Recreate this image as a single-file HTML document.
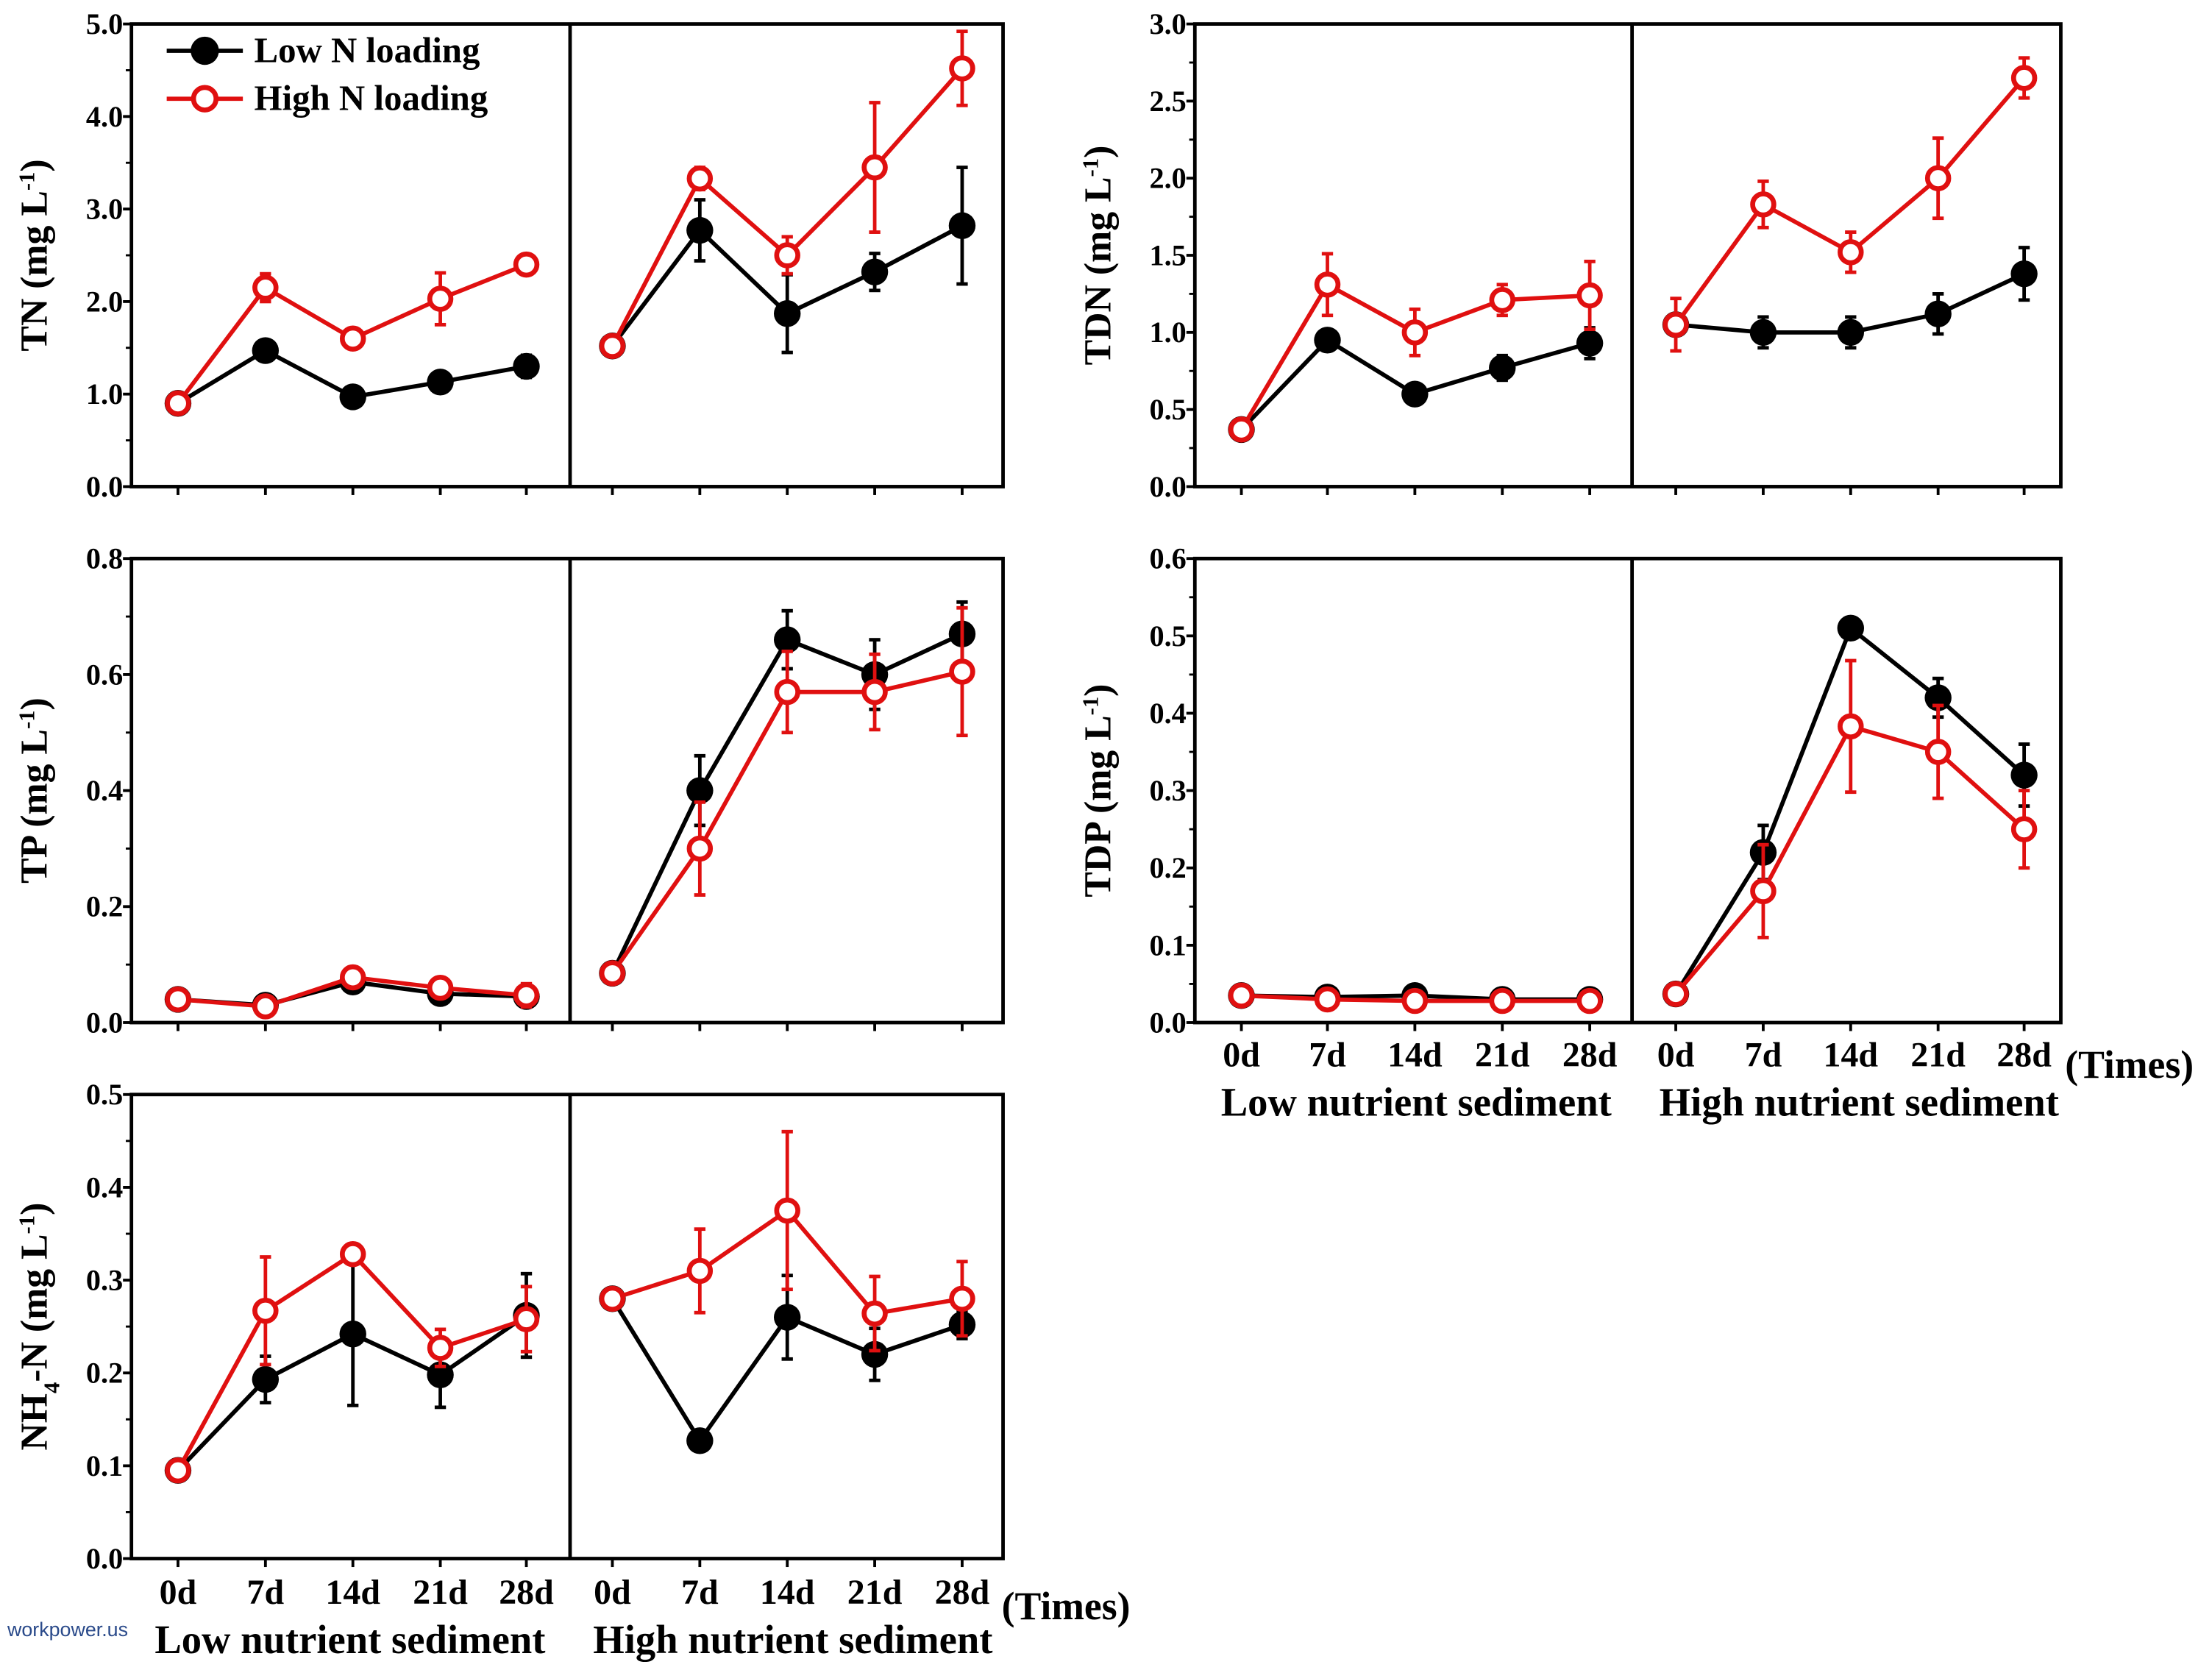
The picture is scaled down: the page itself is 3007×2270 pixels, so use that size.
<!DOCTYPE html>
<html><head><meta charset="utf-8"><style>
html,body{margin:0;padding:0;background:#fff}
svg{display:block}
text{font-family:"Liberation Serif",serif;font-weight:bold;fill:#000}
</style></head><body>
<svg id="s" width="3007" height="2270" viewBox="0 0 1568 1184" xmlns="http://www.w3.org/2000/svg"></svg>
<script>
const s=document.getElementById('s');let h='';
function P(o){
 const {x0,x1,y0,y1,div,max,step,dec,xs,title,b,r,eb,er}=o;
 const Y=v=>y1-(v/max)*(y1-y0);
 h+=`<rect x="${x0}" y="${y0}" width="${x1-x0}" height="${y1-y0}" fill="none" stroke="#000" stroke-width="2.5"/>`;
 h+=`<line x1="${div}" y1="${y0}" x2="${div}" y2="${y1}" stroke="#000" stroke-width="2.5"/>`;
 for(let v=0;v<=max+1e-9;v+=step){const y=Y(v);
  h+=`<line x1="${x0-6}" y1="${y}" x2="${x0}" y2="${y}" stroke="#000" stroke-width="2"/>`;
  h+=`<text x="${x0-6}" y="${y+7}" font-size="21" text-anchor="end">${v.toFixed(dec)}</text>`;}
 for(let v=step/2;v<max;v+=step){const y=Y(v);h+=`<line x1="${x0-4}" y1="${y}" x2="${x0}" y2="${y}" stroke="#000" stroke-width="1.5"/>`;}
 xs.forEach(x=>h+=`<line x1="${x}" y1="${y1}" x2="${x}" y2="${y1+6}" stroke="#000" stroke-width="2"/>`);
 const cy=(y0+y1)/2;
 h+=`<text transform="translate(${x0-60},${cy}) rotate(-90)" font-size="27" text-anchor="middle">${title}</text>`;
 [[b,eb,'#000',true],[r,er,'#e01010',false]].forEach(([d,e,c,f])=>{
  [[0,5],[5,10]].forEach(([a,z])=>{
   let pts=[];for(let i=a;i<z;i++)pts.push(xs[i]+','+Y(d[i]));
   h+=`<polyline points="${pts.join(' ')}" fill="none" stroke="${c}" stroke-width="3"/>`;});
  for(let i=0;i<10;i++){const x=xs[i],y=Y(d[i]);
   if(e[i]>0){const t=Y(d[i]+e[i]),bo=Y(d[i]-e[i]);
    h+=`<line x1="${x}" y1="${t}" x2="${x}" y2="${bo}" stroke="${c}" stroke-width="2.5"/><line x1="${x-4}" y1="${t}" x2="${x+4}" y2="${t}" stroke="${c}" stroke-width="2.5"/><line x1="${x-4}" y1="${bo}" x2="${x+4}" y2="${bo}" stroke="${c}" stroke-width="2.5"/>`;}
  }
  for(let i=0;i<10;i++){const x=xs[i],y=Y(d[i]);
   h+=f?`<circle cx="${x}" cy="${y}" r="9.5" fill="#000"/>`:`<circle cx="${x}" cy="${y}" r="7.5" fill="#fff" stroke="${c}" stroke-width="3.5"/>`;}
 });
}
const XL=[126,188,250,312,373,434,496,558,620,682],XR=[880,941,1003,1065,1127,1188,1250,1312,1374,1435];
P({x0:93,x1:711,y0:17,y1:345,div:404,max:5,step:1,dec:1,xs:XL,title:'TN (mg L<tspan baseline-shift="super" font-size="16">-1</tspan>)',
 b:[.9,1.47,.97,1.13,1.3,1.52,2.77,1.87,2.32,2.82],r:[.9,2.15,1.6,2.03,2.4,1.52,3.33,2.5,3.45,4.52],
 eb:[0,.05,.05,.05,.12,0,.33,.42,.2,.63],er:[0,.15,.05,.28,.05,.05,.12,.2,.7,.4]});
P({x0:847,x1:1461,y0:17,y1:345,div:1157,max:3,step:.5,dec:1,xs:XR,title:'TDN (mg L<tspan baseline-shift="super" font-size="16">-1</tspan>)',
 b:[.37,.95,.6,.77,.93,1.05,1.0,1.0,1.12,1.38],r:[.37,1.31,1.0,1.21,1.24,1.05,1.83,1.52,2.0,2.65],
 eb:[0,.03,.03,.08,.1,.03,.1,.1,.13,.17],er:[0,.2,.15,.1,.22,.17,.15,.13,.26,.13]});
P({x0:93,x1:711,y0:396,y1:725,div:404,max:.8,step:.2,dec:1,xs:XL,title:'TP (mg L<tspan baseline-shift="super" font-size="16">-1</tspan>)',
 b:[.04,.03,.07,.05,.045,.085,.40,.66,.60,.67],r:[.04,.028,.078,.06,.047,.085,.30,.57,.57,.605],
 eb:[0,0,.01,.01,.01,0,.06,.05,.06,.055],er:[0,0,.015,.01,.02,0,.08,.07,.065,.11]});
P({x0:847,x1:1461,y0:396,y1:725,div:1157,max:.6,step:.1,dec:1,xs:XR,title:'TDP (mg L<tspan baseline-shift="super" font-size="16">-1</tspan>)',
 b:[.035,.033,.035,.03,.03,.037,.22,.51,.42,.32],r:[.035,.03,.028,.028,.028,.037,.17,.383,.35,.25],
 eb:[0,0,0,0,0,0,.035,.005,.025,.04],er:[0,0,0,0,0,0,.06,.085,.06,.05]});
P({x0:93,x1:711,y0:776,y1:1105,div:404,max:.5,step:.1,dec:1,xs:XL,title:'NH<tspan baseline-shift="sub" font-size="16">4</tspan>-N (mg L<tspan baseline-shift="super" font-size="16">-1</tspan>)',
 b:[.095,.193,.242,.198,.262,.28,.127,.26,.22,.252],r:[.095,.267,.328,.227,.258,.28,.31,.375,.264,.28],
 eb:[0,.025,.077,.035,.045,0,0,.045,.028,.015],er:[0,.058,.005,.02,.035,0,.045,.085,.04,.04]});
const lab=['0d','7d','14d','21d','28d'];
function XLab(xs,y,tx,ty,l1x,l2x){xs.forEach((x,i)=>h+=`<text x="${x}" y="${y}" font-size="25" text-anchor="middle">${lab[i%5]}</text>`);
 h+=`<text x="${tx}" y="${ty}" font-size="28">(Times)</text>`;
 h+=`<text x="${l1x}" y="${y+35}" font-size="28.5" text-anchor="middle">Low nutrient sediment</text>`;
 h+=`<text x="${l2x}" y="${y+35}" font-size="28.5" text-anchor="middle">High nutrient sediment</text>`;}
XLab(XR,756,1464,764,1004,1318);
XLab(XL,1137,710,1148,248,562);
h+=`<line x1="118" y1="36" x2="172" y2="36" stroke="#000" stroke-width="3"/><circle cx="145" cy="36" r="10" fill="#000"/>`;
h+=`<text x="180" y="44" font-size="25.5">Low N loading</text>`;
h+=`<line x1="118" y1="70" x2="172" y2="70" stroke="#e01010" stroke-width="3"/><circle cx="145" cy="70" r="8" fill="#fff" stroke="#e01010" stroke-width="3.5"/>`;
h+=`<text x="180" y="78" font-size="25.5">High N loading</text>`;
h+=`<text x="5" y="1160" font-size="14" style="font-family:'Liberation Sans',sans-serif;font-weight:normal;fill:#2a4a8a">workpower.us</text>`;
s.innerHTML=h;
</script>
</body></html>
